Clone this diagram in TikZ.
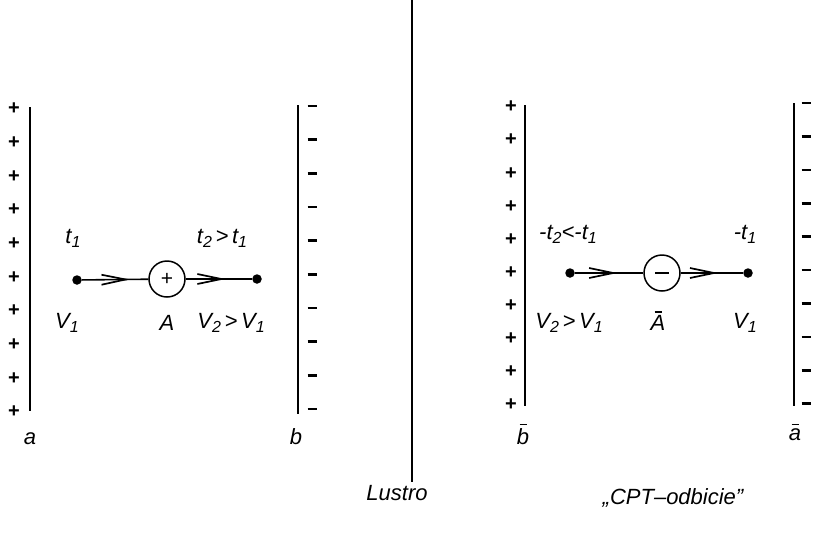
\documentclass[tikz,border=0pt]{standalone}
\usepackage{fontspec}
\setmainfont{Liberation Sans}
\usetikzlibrary{arrows.meta,decorations.markings}
\newcommand\sbs[1]{\raisebox{-0.35ex}{\fontsize{16}{16}\selectfont #1}}
\newcommand\barred[1]{\setbox0\hbox{#1}\rlap{\hbox to \wd0{\hss\raisebox{\dimexpr\ht0+3pt\relax}{\rule{7pt}{1.8pt}}\hss}}\box0}
\tikzset{
 plate/.style={line width=2.8pt},
 mirror/.style={line width=2pt},
 dotnode/.style={circle,fill,inner sep=0pt,minimum size=9.5pt},
 particle/.style={circle,draw,line width=1.5pt,minimum size=36pt,inner sep=0pt,font=\fontsize{21}{21}\selectfont},
 lbl/.style={font=\fontsize{22}{25}\selectfont\itshape,inner sep=0pt},
 plussign/.style={font=\fontsize{20}{20}\selectfont\bfseries,inner sep=0pt},
 minussign/.style={inner sep=0pt},
 track/.style={line width=1.6pt, postaction={decorate},
   decoration={markings, mark=at position #1 with {\arrow{Straight Barb[length=24pt,width=10pt,line width=1.7pt]}}}},
}
\begin{document}
\begin{tikzpicture}[x=1pt,y=-1pt]
\useasboundingbox (0,0) rectangle (814,539);
% plates
\draw[plate] (30,107) -- (30,411);
\draw[plate] (298,105) -- (298,414);
\draw[plate] (525,105) -- (525,406);
\draw[plate] (794,103) -- (794,406);
\foreach \i in {0,...,9} {
  \node[plussign] (pa\i) at (14,{109+\i*33.67}) {+};
  \node[minussign] (mb\i) at (312,{106+\i*33.67}) {\rule{9pt}{2.6pt}};
  \node[plussign] (pb\i) at (511,{107+\i*33.1}) {+};
  \node[minussign] (ma\i) at (806,{103+\i*33.4}) {\rule{9pt}{2.6pt}};
}
% mirror
\coordinate (mtop) at (412,0);
\coordinate (mbot) at (412,482);
\draw[mirror] (mtop) -- (mbot);
% left process
\node[dotnode] (v1) at (77,280) {};
\node[particle] (A) at (167,279) {+};
\node[dotnode] (v2) at (257,279) {};
\draw[track=0.72] (v1) -- (A);
\draw[track=0.6] (A) -- (v2);
\node[lbl] (t1) at (73,238) {t\sbs1};
\node[lbl] (t2) at (222,238) {t\sbs2\,>\,t\sbs1};
\node[lbl] (lv1) at (67,323) {V\sbs1};
\node[lbl] (lA) at (167,323) {A};
\node[lbl] (lv2) at (231,323) {V\sbs2\,>\,V\sbs1};
% right process
\node[dotnode] (w2) at (570,273) {};
\node[particle] (Ab) at (662,273) {\rule{14pt}{1.6pt}};
\node[dotnode] (w1) at (748,273) {};
\draw[track=0.62] (w2) -- (Ab);
\draw[track=0.6] (Ab) -- (w1);
\node[lbl] (mt2) at (568,234) {-t\sbs2<-t\sbs1};
\node[lbl] (mt1) at (745,234) {-t\sbs1};
\node[lbl] (rv2) at (569,323) {V\sbs2\,>\,V\sbs1};
\node[lbl] (rA) at (658,321) {\barred{A}};
\node[lbl] (rv1) at (745,323) {V\sbs1};
% plate labels
\node[lbl] (la) at (30,439) {a};
\node[lbl] (lb) at (296,437) {b};
\node[lbl] (lbb) at (523,434) {\barred{b}};
\node[lbl] (lab) at (795,432) {\barred{a}};
% captions
\node[lbl] (lustro) at (397,493) {Lustro};
\node[lbl] (cpt) at (673,498) {„CPT–odbicie”};
\end{tikzpicture}
\end{document}
